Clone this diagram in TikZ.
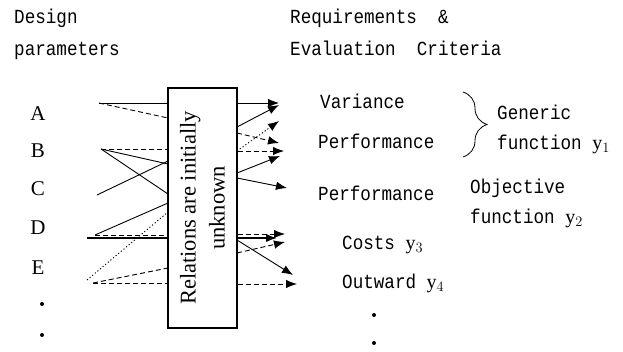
\documentclass[tikz,border=0pt]{standalone}
\usepackage{fontspec}
\setmainfont{Liberation Serif}
\setmonofont{Liberation Mono}[FakeStretch=0.88]
\usetikzlibrary{arrows.meta,decorations.pathreplacing}
\tikzset{
  lbl/.style={font=\fontsize{20}{22}\selectfont\ttfamily,anchor=base west,inner sep=0pt},
  par/.style={font=\fontsize{21}{24}\selectfont\rmfamily,inner sep=0pt},
  pdot/.style={circle,fill,inner sep=0pt,minimum size=4pt},
  rel/.style={line width=0.9pt},
  reldash/.style={rel,dash pattern=on 5pt off 3pt},
  reldot/.style={rel,dash pattern=on 1.2pt off 2.2pt},
  relthick/.style={line width=1.8pt},
  tip/.style={-{Latex[length=11pt,width=8.5pt]}},
}
\newcommand{\yv}[1]{{\rmfamily\fontsize{20}{22}\selectfont y$_{#1}$}}

\begin{document}
\begin{tikzpicture}[x=1pt,y=-1pt]
\useasboundingbox (0,0) rectangle (623,351);
% headings
\node[lbl] (dp1) at (14,23) {Design};
\node[lbl] (dp2) at (14,55) {parameters};
\node[lbl] (rq1) at (290,23) {Requirements\ \ \&};
\node[lbl] (rq2) at (290,55) {Evaluation\ \ Criteria};
% design parameters
\node[par] (A) at (38,114) {A};
\node[par] (B) at (38,151) {B};
\node[par] (C) at (38,189) {C};
\node[par] (D) at (38,228) {D};
\node[par] (E) at (38,268) {E};
\node[pdot] (pd1) at (42,304) {};
\node[pdot] (pd2) at (42,335) {};
% unknown relations
\node[draw,line width=1.3pt,minimum width=69pt,minimum height=240pt,inner sep=0pt] (box) at (202.5,208) {};
\node[rotate=90,align=center,font=\fontsize{22.5}{29}\selectfont\rmfamily] (boxtxt) at (box.center) {Relations are initially\\unknown};
% start points
\coordinate (a1) at (99,103);
\coordinate (b1) at (101,149);
\coordinate (c1) at (97,195);
\coordinate (d1) at (95,235);
\coordinate (d0) at (87,238);
\coordinate (d2) at (87,280);
\coordinate (e1) at (93,283);
% left connectors
\draw[rel] (a1) -- (box.west |- a1);
\draw[reldash] (a1) -- (168,118);
\draw[reldash] (b1) -- (box.west |- b1);
\draw[rel] (b1) -- (168,164);
\draw[rel] (b1) -- (168,194);
\draw[rel] (c1) -- (168,161);
\draw[rel] (d1) -- (168,203);
\draw[reldash] (d1) -- (box.west |- d1);
\draw[relthick] (d0) -- (box.west |- d0);
\draw[reldot] (d2) -- (168,212);
\draw[reldash] (e1) -- (168,268);
\draw[reldash] (e1) -- (box.west |- e1);
% criteria
\node[lbl] (var) at (320,108) {Variance};
\node[lbl] (perf1) at (318,148) {Performance};
\node[lbl] (perf2) at (318,200) {Performance};
\node[lbl] (gen1) at (497,119) {Generic};
\node[lbl] (gen2) at (497,149) {function \yv{1}};
\node[lbl] (obj1) at (470,193) {Objective};
\node[lbl] (obj2) at (470,223) {function \yv{2}};
\node[lbl] (cost) at (342,249) {Costs \yv{3}};
\node[lbl] (outw) at (342,288) {Outward \yv{4}};
\node[pdot] (rd1) at (374,315) {};
\node[pdot] (rd2) at (374,343) {};
\draw[line width=0.8pt,decorate,decoration={brace,amplitude=24pt}] (463,92) -- (463,157);
% end points
\coordinate (r1) at (279,103);
\coordinate (r2) at (279,105);
\coordinate (r3) at (279,143);
\coordinate (r4) at (279,121);
\coordinate (r5) at (284,151);
\coordinate (r6) at (280,156);
\coordinate (r7) at (287,188);
\coordinate (r8) at (285,234);
\coordinate (r9) at (277,238);
\coordinate (r10) at (285,242);
\coordinate (r11) at (293,275);
\coordinate (r12) at (297,284);
% right connectors
\draw[rel,tip] (box.east |- r1) -- (r1);
\draw[rel,tip] (237,127) -- (r2);
\draw[reldash,tip] (237,133) -- (r3);
\draw[reldot,tip] (237,151) -- (r4);
\draw[reldash,tip] (box.east |- r5) -- (r5);
\draw[rel,tip] (237,173) -- (r6);
\draw[rel,tip] (237,178) -- (r7);
\draw[reldash,tip] (box.east |- r8) -- (r8);
\draw[relthick,tip] (box.east |- r9) -- (r9);
\draw[reldash,tip] (237,253) -- (r10);
\draw[rel,tip] (237,240) -- (r11);
\draw[reldash,tip] (box.east |- r12) -- (r12);
\end{tikzpicture}
\end{document}
